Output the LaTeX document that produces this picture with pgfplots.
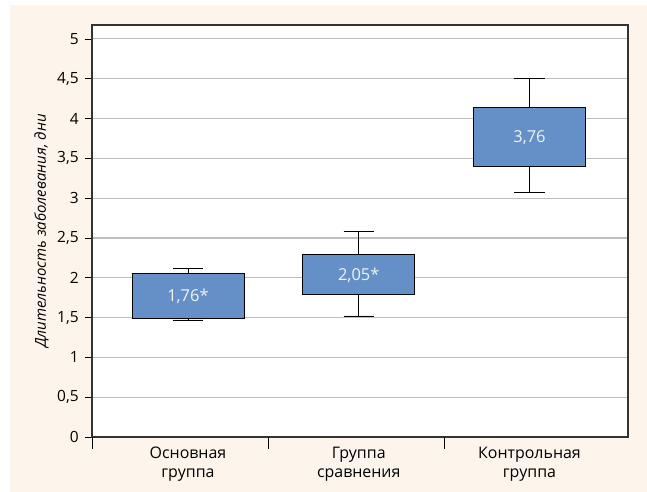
\documentclass[border=0pt]{standalone}
\usepackage{fontspec}
\setmainfont{Open Sans}
\usepackage{pgfplots}
\pgfplotsset{compat=1.18}
\usepgfplotslibrary{statistics}
\definecolor{cream}{RGB}{253,245,235}
\definecolor{boxblue}{RGB}{101,144,199}
\definecolor{gridgray}{RGB}{190,190,190}
\begin{document}
\fontsize{15.5}{19}\selectfont
\begin{tikzpicture}[font=\fontsize{15.5}{19}\selectfont]
\useasboundingbox (0,0) rectangle (647bp,492bp);
\fill[cream] (10bp,0bp) rectangle (647bp,487bp);
\begin{axis}[
  at={(92bp,55bp)}, anchor=south west,
  scale only axis, width=536bp, height=412bp,
  xmin=0.438, xmax=3.577, ymin=0, ymax=5.175,
  /pgf/number format/assume math mode=true,
  tick label style={font=\fontsize{15.5}{19}\selectfont},
  label style={font=\fontsize{15}{18}\selectfont},
  axis background/.style={fill=white},
  axis line style={draw=black!80, line width=1.1pt},
  xtick pos=bottom, ytick pos=left,
  ytick={0,0.5,...,5},
  yticklabels={0,{0,5},1,{1,5},2,{2,5},3,{3,5},4,{4,5},5},
  ymajorgrids, grid style={gridgray, line width=1.1pt},
  ytick style={black, line width=0.8pt},
  tick align=outside, major tick length=7bp,
  xtick={1,2,3},
  xticklabels={{Основная\\группа},{Группа\\сравнения},{Контрольная\\группа}},
  xticklabel style={align=center, text depth=0pt, yshift=2bp, font=\fontsize{16}{19}\selectfont},
  x tick style={draw=none},
  extra x ticks={0.438,1.47,2.5},
  extra x tick labels={},
  extra x tick style={grid=none, major tick length=12bp, x tick style={draw=black, line width=0.8pt}},
  ylabel={\itshape Длительность заболевания, дни},
  ylabel style={yshift=-2bp},
  yticklabel style={xshift=-1bp},
  boxplot/draw direction=y,
]
\addplot+[boxplot prepared={draw position=1, lower whisker=1.47, lower quartile=1.49, median=1.775, upper quartile=2.06, upper whisker=2.12, box extend=0.656, whisker extend=0.176, every median/.style={draw=none}},
  draw=black, line width=0.9pt, fill=boxblue, solid, mark=none] coordinates {};
\addplot+[boxplot prepared={draw position=2, lower whisker=1.52, lower quartile=1.79, median=2.04, upper quartile=2.29, upper whisker=2.58, box extend=0.656, whisker extend=0.176, every median/.style={draw=none}},
  draw=black, line width=0.9pt, fill=boxblue, solid, mark=none] coordinates {};
\addplot+[boxplot prepared={draw position=3, lower whisker=3.07, lower quartile=3.40, median=3.77, upper quartile=4.14, upper whisker=4.50, box extend=0.656, whisker extend=0.176, every median/.style={draw=none}},
  draw=black, line width=0.9pt, fill=boxblue, solid, mark=none] coordinates {};
\node[text=white!95!black, font=\fontsize{16.5}{19}\selectfont] at (axis cs:1,1.765) {1,76*};
\node[text=white!95!black, font=\fontsize{16.5}{19}\selectfont] at (axis cs:2,2.03) {2,05*};
\node[text=white!95!black, font=\fontsize{16.5}{19}\selectfont] at (axis cs:3,3.76) {3,76};
\end{axis}
\end{tikzpicture}
\end{document}
